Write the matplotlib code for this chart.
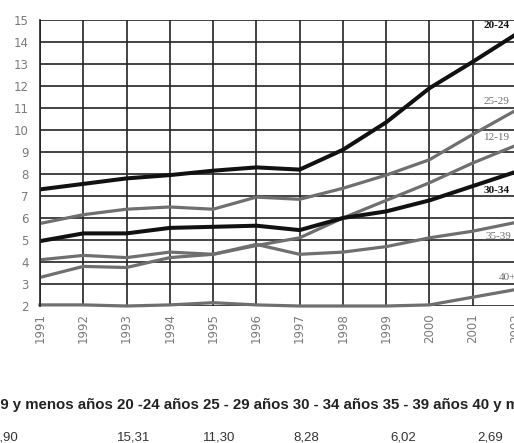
import numpy as np
import matplotlib
matplotlib.use('Agg')
import matplotlib.pyplot as plt

# values (tasa por grupo de edad)
years = list(range(1991, 2003))
g20_24 = [7.3, 7.55, 7.8, 7.95, 8.15, 8.3, 8.2, 9.1, 10.35, 11.9, 13.1, 14.35]
g25_29 = [5.75, 6.15, 6.4, 6.5, 6.4, 6.95, 6.85, 7.35, 7.95, 8.65, 9.8, 10.9]
g12_19 = [3.3, 3.8, 3.75, 4.2, 4.35, 4.75, 5.1, 6.0, 6.8, 7.6, 8.5, 9.3]
g30_34 = [4.95, 5.3, 5.3, 5.55, 5.6, 5.65, 5.45, 6.0, 6.3, 6.8, 7.45, 8.1]
g35_39 = [4.1, 4.3, 4.2, 4.45, 4.35, 4.8, 4.35, 4.45, 4.7, 5.1, 5.4, 5.8]
g40 = [2.05, 2.05, 2.0, 2.05, 2.15, 2.05, 2.0, 2.0, 2.0, 2.05, 2.4, 2.75]

# table under the chart
table_head = '19 y menos años 20 -24 años 25 - 29 años 30 - 34 años 35 - 39 años 40 y más años'
table_vals = [9.90, 15.31, 11.30, 8.28, 6.02, 2.69]

black = '#111111'
gray = '#6f6f6f'

W, H = 514, 443
fig = plt.figure(figsize=(W/100, H/100), dpi=100)
# axes box in pixels: left 40, right 516, top 20, bottom 306
ax = fig.add_axes([40/W, 1 - 306/H, 476/W, 286/H])
ax.set_xlim(1991, 2002)
ax.set_ylim(2, 15)
ax.set_xticks(years)
ax.set_yticks(range(2, 16))
ax.grid(True, color='#222222', lw=1.2)
ax.set_axisbelow(True)
for s in ['top', 'right', 'bottom']:
    ax.spines[s].set_visible(False)
ax.spines['left'].set_color('#222222')
ax.spines['left'].set_linewidth(1.2)
ax.tick_params(length=0, labelsize=8.5, labelcolor='#7a7a7a')
ax.tick_params(axis='y', pad=8)
ax.tick_params(axis='x', pad=5)
for lab in ax.get_xticklabels():
    lab.set_rotation(90)
    lab.set_va('top')

# gray series first, black ones on top
ax.plot(years, g40, color=gray, lw=2.3, clip_on=False)
ax.plot(years, g35_39, color=gray, lw=2.3)
ax.plot(years, g12_19, color=gray, lw=2.3)
ax.plot(years, g25_29, color=gray, lw=2.3)
ax.plot(years, g30_34, color=black, lw=2.9)
ax.plot(years, g20_24, color=black, lw=2.9)

# series labels at the right edge (cut by the page edge, as in the scan)
lbl = dict(ha='left', va='center', fontsize=8, family='Liberation Serif', clip_on=False)
ax.text(2001.26, 14.77, '20-24', color=black, weight='bold', **lbl)
ax.text(2001.26, 11.3, '25-29', color=gray, **lbl)
ax.text(2001.26, 9.68, '12-19', color=gray, **lbl)
ax.text(2001.26, 7.27, '30-34', color=black, weight='bold', **lbl)
ax.text(2001.3, 5.14, '35-39', color=gray, **lbl)
ax.text(2001.6, 3.3, '40+', color=gray, **lbl)

fig.text(-8/W, 1 - 409/H, table_head, fontsize=10.8, weight='bold',
         family='Liberation Sans', color='#222222', va='baseline')
val_x = [-8, 117, 203, 293, 390, 477]
for x, v in zip(val_x, table_vals):
    fig.text(x/W, 1 - 440/H, ('%.2f' % v).replace('.', ','), fontsize=9.5,
             family='Liberation Sans', color='#333333', va='baseline')

fig.savefig('out.png', dpi=100)
